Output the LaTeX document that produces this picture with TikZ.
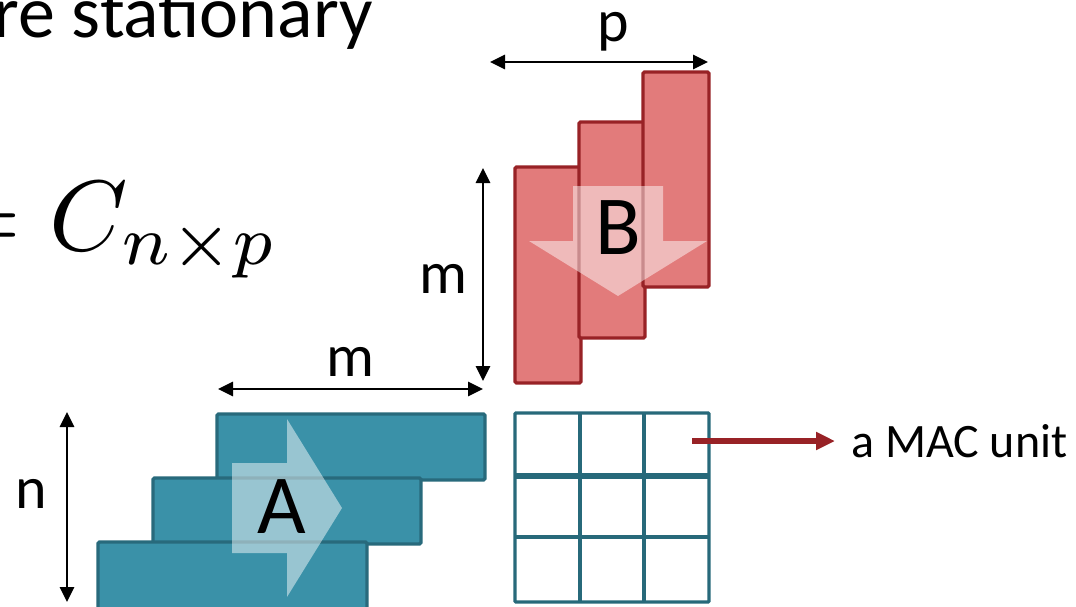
\documentclass[tikz,border=0pt]{standalone}
\usepackage{fontspec}
\setmainfont{Carlito}
\usetikzlibrary{arrows.meta}
\definecolor{redfill}{RGB}{226,123,123}
\definecolor{redline}{RGB}{152,34,38}
\definecolor{tealfill}{RGB}{58,145,168}
\definecolor{tealline}{RGB}{40,106,124}
\definecolor{gridcol}{RGB}{39,105,122}
\tikzset{
  redbar/.style={fill=redfill, draw=redline, line width=3.4pt, rounded corners=1.5pt},
  tealbar/.style={fill=tealfill, draw=tealline, line width=3.4pt, rounded corners=1.5pt},
  flowarrow/.style={fill=white, fill opacity=0.48, draw=none},
  dimline/.style={line width=2.8pt, {Triangle[length=15pt,width=14pt]}-{Triangle[length=15pt,width=14pt]}},
  gridline/.style={draw=gridcol, line width=3.4pt},
  macarrow/.style={draw=redline, line width=5.5pt, -{Triangle[length=19pt,width=17pt]}},
  lbl/.style={inner sep=0pt, anchor=base, font=\fontsize{60}{60}\selectfont},
  biglbl/.style={inner sep=0pt, anchor=base, font=\fontsize{84}{84}\selectfont},
}
\begin{document}
\begin{tikzpicture}[x=1pt,y=-1pt]
\useasboundingbox (0,0) rectangle (1076,607);
\clip (0,0) rectangle (1076,607);
\fill[white] (0,0) rectangle (1076,607);

% title fragment and equation
\node[inner sep=0pt, anchor=base east, font=\fontsize{74}{74}\selectfont] (title) at (373,38) {re stationary};
\node[inner sep=0pt, anchor=base west, scale=10, font=\fontsize{10}{12}\selectfont] (eq) at (-58,250) {$=C_{n\times p}$};

% B stack
\draw[redbar] (515,167) rectangle (581,383);
\draw[redbar] (579,122) rectangle (645,338);
\draw[redbar] (643,72) rectangle (709,287);
\fill[flowarrow] (573,186) -- (663,186) -- (663,241) -- (707,241) -- (618,296) -- (529,241) -- (573,241) -- cycle;
\node[biglbl] (B) at (618,254) {B};

% A stack
\draw[tealbar] (217,414) rectangle (485,480);
\draw[tealbar] (153,478) rectangle (421,544);
\draw[tealbar] (98,542) rectangle (367,610);
\fill[flowarrow] (232,463) -- (287,463) -- (287,419) -- (342,508) -- (287,597) -- (287,553) -- (232,553) -- cycle;
\node[biglbl] (A) at (282,533) {A};

% MAC grid
\draw[gridline, rounded corners=1pt] (515,413) rectangle (709,602);
\draw[gridline] (580,413) -- (580,602);
\draw[gridline] (644,413) -- (644,602);
\draw[gridline, line width=5.5pt] (515,476) -- (709,476);
\draw[gridline] (515,537) -- (709,537);

% MAC annotation
\coordinate (cell) at (692,441);
\node[inner sep=0pt, anchor=base west, font=\fontsize{48}{48}\selectfont] (mac) at (851,457) {a MAC unit};
\draw[macarrow] (cell) -- ([xshift=-16pt]mac.west |- cell);

% dimension arrows
\coordinate (p1) at (490,62);  \coordinate (p2) at (708,62);
\coordinate (mv1) at (483,168); \coordinate (mv2) at (483,381);
\coordinate (mh1) at (218,389); \coordinate (mh2) at (483,389);
\coordinate (n1) at (67,412);  \coordinate (n2) at (67,602);
\draw[dimline] (p1) -- (p2);
\draw[dimline] (mv1) -- (mv2);
\draw[dimline] (mh1) -- (mh2);
\draw[dimline] (n1) -- (n2);
\node[lbl] (plbl) at (613,42) {p};
\node[lbl] (mvlbl) at (443,293) {m};
\node[lbl] (mhlbl) at (350,376) {m};
\node[lbl] (nlbl) at (31,508) {n};
\end{tikzpicture}
\end{document}
